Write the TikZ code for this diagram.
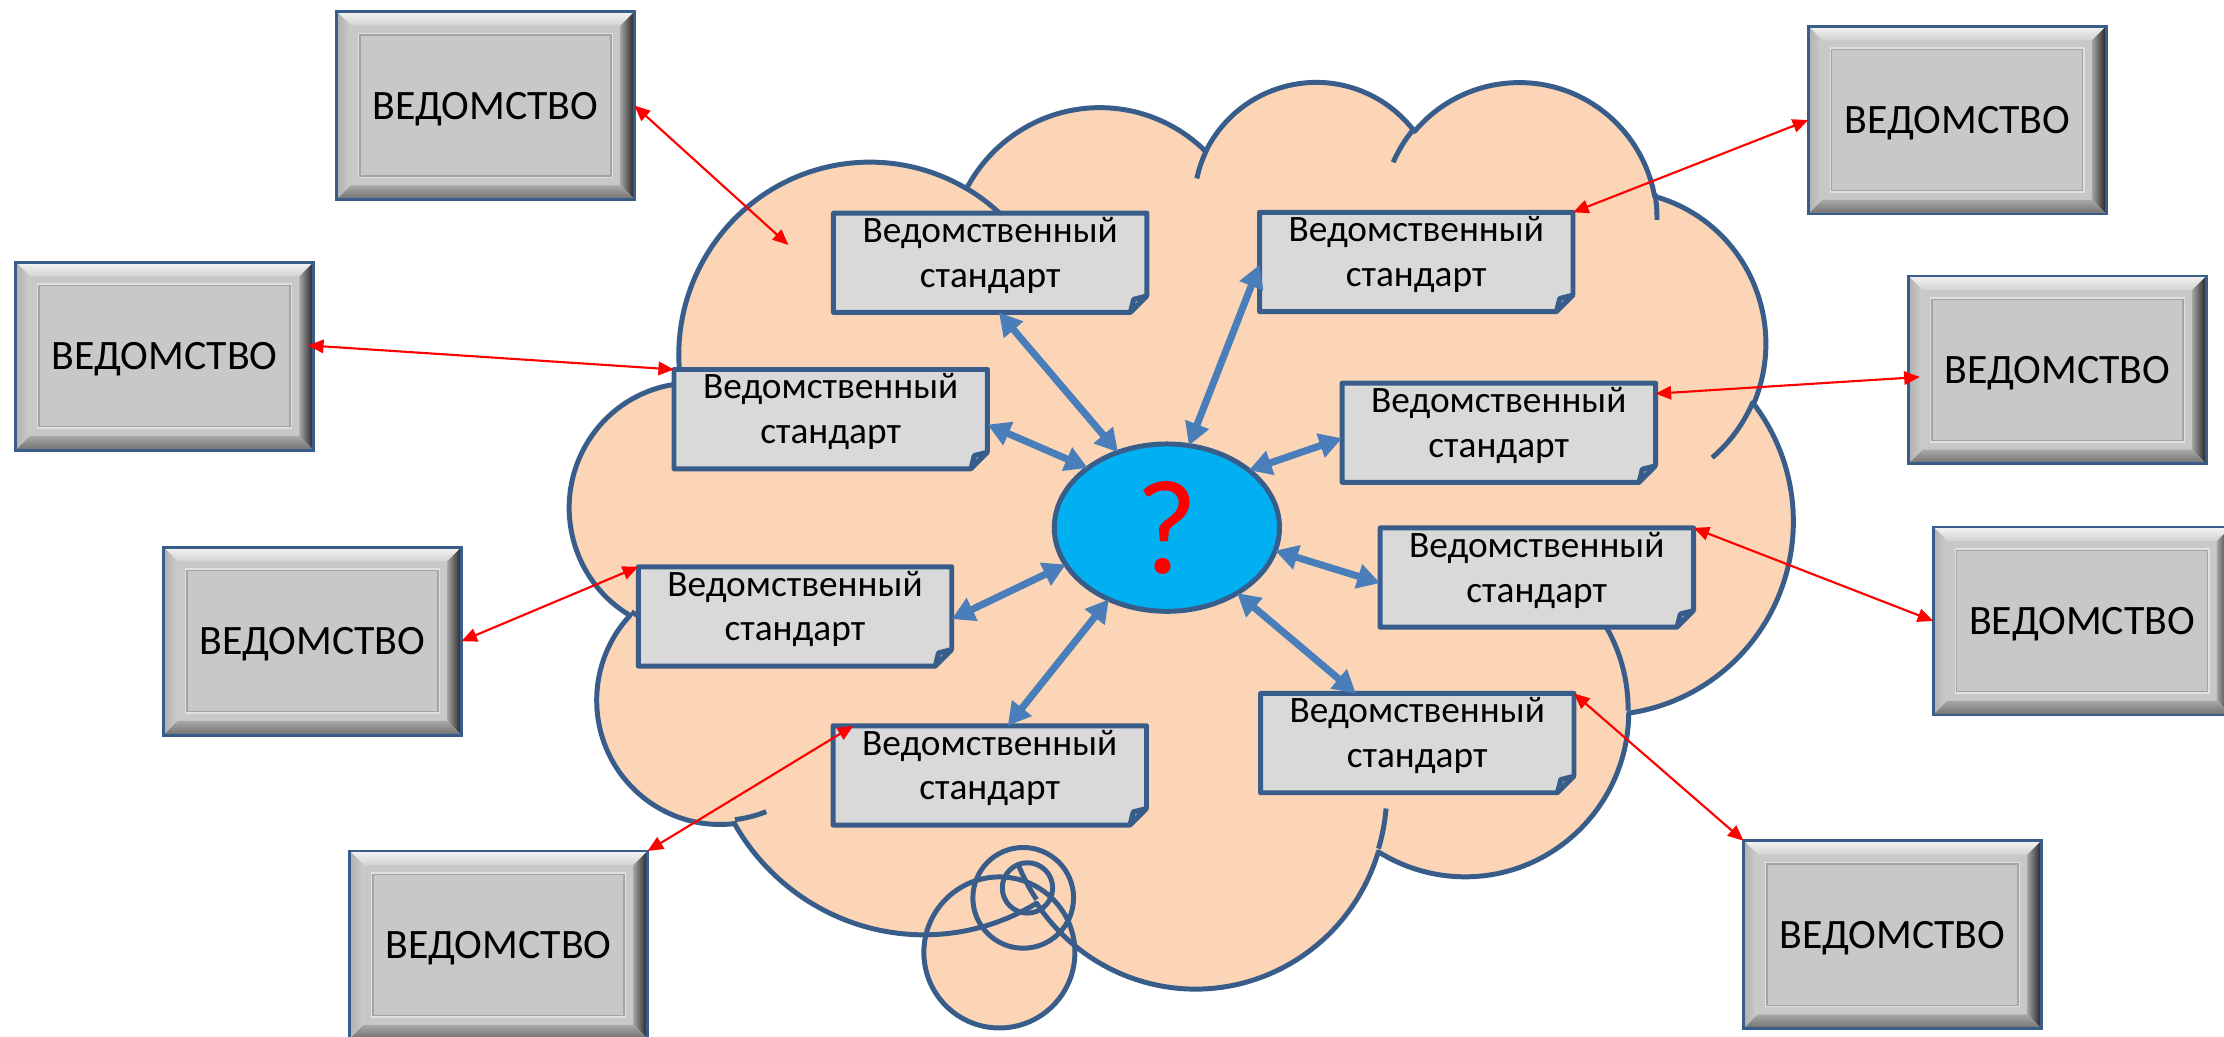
\documentclass[tikz,border=0pt]{standalone}
\usepackage{fontspec}
\setmainfont{Carlito}
\usetikzlibrary{arrows.meta,shapes.geometric}
\definecolor{cloudfill}{HTML}{FBD5B5}
\definecolor{outl}{HTML}{385D8A}
\definecolor{sboxfill}{HTML}{D9D9D9}
\definecolor{sfold}{HTML}{8C9BB0}
\definecolor{qfill}{HTML}{00B0F0}
\definecolor{barrow}{HTML}{4A7EBB}
\definecolor{redarrow}{HTML}{FF0000}
\definecolor{vface}{HTML}{C8C8C8}
\definecolor{vtopA}{HTML}{F4F4F4}
\definecolor{vtopB}{HTML}{D2D2D2}
\definecolor{vleftA}{HTML}{B0B0B0}
\definecolor{vleftB}{HTML}{CDCDCD}
\definecolor{vrightA}{HTML}{A4A4A4}
\definecolor{vrightB}{HTML}{202020}
\definecolor{vbotA}{HTML}{A8A8A8}
\definecolor{vbotB}{HTML}{707070}
\definecolor{vlineA}{HTML}{E0E0E0}
\definecolor{vlineB}{HTML}{A4A4A4}
\pgfdeclarelayer{cloudlayer}
\pgfdeclarelayer{shapelayer}
\pgfsetlayers{cloudlayer,shapelayer,main}
\newcommand\vfont{\fontsize{29.5pt}{34pt}\selectfont}
\newcommand\sfont{\fontsize{26.3pt}{31.7pt}\selectfont}
\newcommand\qfont{\fontsize{95pt}{105pt}\selectfont}
\newcommand\sbtext{\vbox to 70pt{\offinterlineskip\sfont
  \vskip 20.6pt
  \hbox to 221pt{\hss\smash{Ведомственный}\hss}%
  \vskip 31.7pt
  \hbox to 221pt{\hss\smash{стандарт}\hss}%
  \vfil}}
% visual (DrawingML) angles -> parametric angles
\newcommand\prepArc[6]{%
  \pgfmathsetmacro\tmpArcA{#5}%
  \pgfmathsetmacro\tmpArcB{(#5)+(#6)}%
  \pgfmathsetmacro\tmpArcPA{atan2((#3)*sin(\tmpArcA),(#4)*cos(\tmpArcA))}%
  \pgfmathsetmacro\tmpArcPB{atan2((#3)*sin(\tmpArcB),(#4)*cos(\tmpArcB))}%
  \pgfmathsetmacro#1{(\tmpArcA)+atan2(sin((\tmpArcPA)-(\tmpArcA)),cos((\tmpArcPA)-(\tmpArcA)))}%
  \pgfmathsetmacro#2{(\tmpArcB)+atan2(sin((\tmpArcPB)-(\tmpArcB)),cos((\tmpArcPB)-(\tmpArcB)))}%
}
\tikzset{
  cloudline/.style={draw=outl, line width=3.5pt, line join=round},
  sbox/.style={rectangle, inner sep=0pt, outer sep=0pt, minimum width=221pt, minimum height=70pt},
  sboxline/.style={draw=outl, line width=3.5pt, line join=round},
  qnode/.style={ellipse, draw=outl, line width=3.5pt, fill=qfill, minimum width=158.8pt,
    minimum height=118pt, inner sep=0pt, outer sep=0pt, text=red, font=\qfont, text depth=0pt},
  barr/.style={draw=barrow, line width=5pt, <->, >={Triangle[length=16pt,width=17pt]}},
  rarr/.style={draw=redarrow, line width=1.5pt, <->, >={Triangle[length=11pt,width=9.5pt]}},
  vbox/.style={rectangle, minimum width=210pt, minimum height=132.5pt, inner sep=0pt, outer sep=0pt,
    font=\vfont, text depth=0pt, fill=vface, draw=outl, line width=2pt,
    path picture={
      \coordinate (pnw) at (path picture bounding box.north west);
      \coordinate (pne) at (path picture bounding box.north east);
      \coordinate (psw) at (path picture bounding box.south west);
      \coordinate (pse) at (path picture bounding box.south east);
      \fill[top color=vtopA, bottom color=vtopB] (pnw) -- (pne) -- ([shift={(-10pt,-10pt)}]pne) -- ([shift={(10pt,-10pt)}]pnw) -- cycle;
      \fill[left color=vleftA, right color=vleftB] (pnw) -- ([shift={(10pt,-10pt)}]pnw) -- ([shift={(10pt,10pt)}]psw) -- (psw) -- cycle;
      \fill[left color=vrightA, right color=vrightB] (pne) -- (pse) -- ([shift={(-10pt,10pt)}]pse) -- ([shift={(-10pt,-10pt)}]pne) -- cycle;
      \fill[top color=vbotA, bottom color=vbotB] (psw) -- ([shift={(10pt,10pt)}]psw) -- ([shift={(-10pt,10pt)}]pse) -- (pse) -- cycle;
      \draw[line width=1pt, draw=vlineA] ([shift={(15.5pt,-15.5pt)}]pnw) rectangle ([shift={(-15.5pt,15.5pt)}]pse);
      \draw[line width=1pt, draw=vlineB] ([shift={(16.5pt,-16.5pt)}]pnw) rectangle ([shift={(-16.5pt,16.5pt)}]pse);
    }},
}
\newcommand\stdbox[2]{%
  \node[sbox] (#1) at #2 {\sbtext};
  \begin{pgfonlayer}{shapelayer}
    \fill[sboxfill] (#1.north west) -- (#1.north east) -- ([yshift=11.67pt]#1.south east)
      -- ([xshift=-11.67pt]#1.south east) -- (#1.south west) -- cycle;
    \fill[sfold] ([xshift=-11.67pt]#1.south east) -- ([shift={(-9.33pt,9.33pt)}]#1.south east)
      -- ([yshift=11.67pt]#1.south east) -- cycle;
    \draw[sboxline] ([xshift=-11.67pt]#1.south east) -- ([shift={(-9.33pt,9.33pt)}]#1.south east)
      -- ([yshift=11.67pt]#1.south east) -- ([xshift=-11.67pt]#1.south east)
      -- (#1.south west) -- (#1.north west) -- (#1.north east) -- ([yshift=11.67pt]#1.south east);
  \end{pgfonlayer}}
\begin{document}
\begin{tikzpicture}[x=1pt,y=-1pt]
\useasboundingbox (0,0) rectangle (1568,731);
% cloud arcs
\prepArc\mAs\mAe{6753}{9190}{-190.48748}{123.78053}
\prepArc\mBs\mBe{5333}{7267}{-144.10238}{89.94523}
\prepArc\mCs\mCe{4365}{5945}{-145.80792}{99.72302}
\prepArc\mDs\mDe{4857}{6595}{-130.98607}{117.24173}
\prepArc\mEs\mEe{5333}{7273}{-78.70888}{109.02692}
\prepArc\mFs\mFe{6775}{9220}{-46.26725}{130.269}
\prepArc\mGs\mGe{5785}{7867}{0.62502}{114.03333}
\prepArc\mHs\mHe{6752}{9215}{22.4516}{115.17255}
\prepArc\mIs\mIe{7720}{10543}{66.24263}{75.71102}
\prepArc\mJs\mJe{4360}{5918}{-274.94208}{146.73557}
\prepArc\mKs\mKe{4345}{5945}{-246.8285}{152.51885}
\prepArc\iAs\iAe{4345}{5945}{86.742}{26.4295}
\prepArc\iBs\iBe{4360}{5918}{73.61047}{11.44747}
\prepArc\iCs\iCe{6752}{9215}{137.62415}{14.0811}
\prepArc\iDs\iDe{6752}{9215}{6.45327}{15.99835}
\prepArc\iEs\iEe{5785}{7867}{-70.29235}{70.91737}
\prepArc\iFs\iFe{5333}{7273}{30.31803}{27.7515}
\prepArc\iGs\iGe{4857}{6595}{-13.74433}{14.8589}
\prepArc\iHs\iHe{4857}{6595}{-149.18145}{18.19537}
\prepArc\iIs\iIe{4365}{5945}{-163.49427}{17.68635}
\prepArc\iJs\iJe{6753}{9190}{-66.70695}{12.31935}
\prepArc\iKs\iKe{6753}{9190}{157.65435}{11.85817}
\def\cloudpath{(90.278,332.639)
 arc[x radius=156.319, y radius=212.731, start angle=\mAs, end angle=\mAe]
 arc[x radius=123.449, y radius=168.218, start angle=\mBs, end angle=\mBe]
 arc[x radius=101.042, y radius=137.616, start angle=\mCs, end angle=\mCe]
 arc[x radius=112.431, y radius=152.662, start angle=\mDs, end angle=\mDe]
 arc[x radius=123.449, y radius=168.356, start angle=\mEs, end angle=\mEe]
 arc[x radius=156.829, y radius=213.426, start angle=\mFs, end angle=\mFe]
 arc[x radius=133.912, y radius=182.107, start angle=\mGs, end angle=\mGe]
 arc[x radius=156.296, y radius=213.310, start angle=\mHs, end angle=\mHe]
 arc[x radius=178.704, y radius=244.051, start angle=\mIs, end angle=\mIe]
 arc[x radius=100.926, y radius=136.991, start angle=\mJs, end angle=\mJe]
 arc[x radius=100.579, y radius=137.616, start angle=\mKs, end angle=\mKe]
 -- cycle}
\begin{pgfonlayer}{cloudlayer}
  \fill[white] (0,0) rectangle (1568,731);
  \begin{scope}[shift={(402,56)},x=0.862pt,y=-0.639pt]
    \fill[cloudfill] \cloudpath;
  \end{scope}
  \fill[cloudfill] (724.4,626) circle[radius=17.75pt] (721.4,633) circle[radius=35.5pt]
    (704.6,671.5) circle[radius=53.25pt];
  \begin{scope}[shift={(402,56)},x=0.862pt,y=-0.639pt]
    \draw[cloudline] \cloudpath;
    \draw[cloudline]
      (108.634,605.949) arc[x radius=100.579, y radius=137.616, start angle=\iAs, end angle=\iAe]
      (160.370,807.847) arc[x radius=100.926, y radius=136.991, start angle=\iBs, end angle=\iBe]
      (381.435,904.861) arc[x radius=156.296, y radius=213.310, start angle=\iCs, end angle=\iCe]
      (667.292,804.421) arc[x radius=156.296, y radius=213.310, start angle=\iDs, end angle=\iDe]
      (790.023,531.343) arc[x radius=133.912, y radius=182.107, start angle=\iEs, end angle=\iEe]
      (967.546,355.417) arc[x radius=123.449, y radius=168.356, start angle=\iFs, end angle=\iFe]
      (887.130,125.602) arc[x radius=112.431, y radius=152.662, start angle=\iGs, end angle=\iGe]
      (673.102,91.481) arc[x radius=112.431, y radius=152.662, start angle=\iHs, end angle=\iHe]
      (512.523,109.259) arc[x radius=101.042, y radius=137.616, start angle=\iIs, end angle=\iIe]
      (324.074,120.185) arc[x radius=156.319, y radius=212.731, start angle=\iJs, end angle=\iJe]
      (95.532,365.486) arc[x radius=156.319, y radius=212.731, start angle=\iKs, end angle=\iKe];
  \end{scope}
  \draw[cloudline] (724.4,626) circle[radius=17.75pt] (721.4,633) circle[radius=35.5pt]
    (704.6,671.5) circle[radius=53.25pt];
\end{pgfonlayer}
% agencies
\node[vbox] (V1) at (342.3,74.4) {ВЕДОМСТВО};
\node[vbox] (V2) at (116.1,251.1) {ВЕДОМСТВО};
\node[vbox] (V3) at (220.3,452.05) {ВЕДОМСТВО};
\node[vbox] (V4) at (351.55,666.25) {ВЕДОМСТВО};
\node[vbox] (V5) at (1379.9,84.65) {ВЕДОМСТВО};
\node[vbox] (V6) at (1450.5,260.8) {ВЕДОМСТВО};
\node[vbox] (V7) at (1468,437.8) {ВЕДОМСТВО};
\node[vbox] (V8) at (1334.2,658.95) {ВЕДОМСТВО};
% standards
\stdbox{A}{(698.1,185.3)}
\stdbox{B}{(998.5,184.7)}
\stdbox{C}{(585.7,295.5)}
\stdbox{D}{(1056.7,305.1)}
\stdbox{E}{(560.5,434.6)}
\stdbox{F}{(1083.5,407.2)}
\stdbox{G}{(697.8,546.7)}
\stdbox{H}{(999.2,523.9)}
% centre
\node[qnode] (Q) at (822.7,372) {?};
% blue arrows
\draw[barr] (A.280.65) -- (Q.123.95);
\draw[barr] (B.181.8) -- (Q.75.4);
\draw[barr] (C.358.03) -- (Q.143.6);
\draw[barr] (D.182.5) -- (Q.35.6);
\draw[barr] (E.359.4) -- (Q.200.7);
\draw[barr] (F.182.4) -- (Q.348.45);
\draw[barr] (G.70.8) -- (Q.231);
\draw[barr] (H.141.4) -- (Q.317.9);
% red arrows
\coordinate (c1) at (555.8,172.7);
\draw[rarr] (V1.east) -- (c1);
\draw[rarr, shorten <=-4pt] (V2.4.5) -- (C.north west);
\draw[rarr] (V3.east) -- (E.north west);
\draw[rarr] (V4.north east) -- (G.160.5);
\draw[rarr] (V5.west) -- (B.north east);
\draw[rarr, shorten <=-8pt] (V6.183.1) -- (D.14.8);
\draw[rarr] (V7.west) -- (F.north east);
\draw[rarr] (V8.north west) -- (H.north east);
\end{tikzpicture}
\end{document}
